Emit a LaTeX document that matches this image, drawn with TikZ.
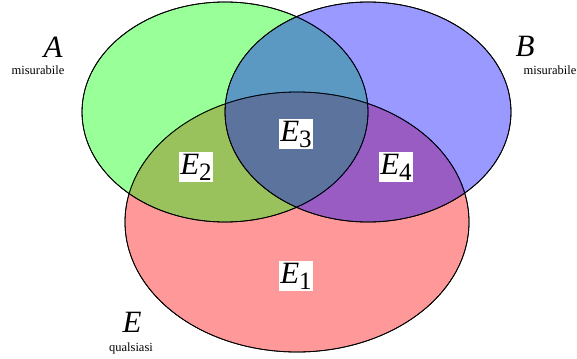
\documentclass[tikz,border=0pt]{standalone}
\usepackage{fontspec}
\setmainfont{Liberation Serif}
\usepackage{tikz}

\newcommand{\pieceE}[1]{E\raisebox{-6pt}{\fontsize{25}{25}\selectfont\upshape #1}}

\begin{document}
\begin{tikzpicture}[
    x=1pt, y=-1pt,
    setdisc/.style={draw=black, line width=0.8pt, fill opacity=0.4},
    region/.style={fill=white, inner sep=1.5pt, font=\fontsize{31}{31}\selectfont\itshape},
    setname/.style={anchor=base, font=\fontsize{31}{31}\selectfont\itshape},
    setnote/.style={anchor=base, font=\fontsize{12.5}{12.5}\selectfont},
]
    \useasboundingbox (0,0) rectangle (577,358);

    % the three sets, E first so the overlaps mix as in the picture
    \fill[setdisc, fill=red] (297,222) ellipse [x radius=172, y radius=130];
    \fill[setdisc, fill=green] (225,112) ellipse [x radius=143, y radius=110];
    \fill[setdisc, fill=blue] (368,112) ellipse [x radius=143, y radius=110];
    \draw[setdisc] (297,222) ellipse [x radius=172, y radius=130];
    \draw[setdisc] (225,112) ellipse [x radius=143, y radius=110];
    \draw[setdisc] (368,112) ellipse [x radius=143, y radius=110];

    % pieces of E
    \node[region] (e1) at (296,276) {\pieceE{1}};
    \node[region] (e2) at (196,167) {\pieceE{2}};
    \node[region] (e3) at (296,134) {\pieceE{3}};
    \node[region] (e4) at (396,167) {\pieceE{4}};

    % names of the sets
    \node[setname] (a) at (53,58) {A};
    \node[setnote] (anote) at (38,75) {misurabile};
    \node[setname] (b) at (525,57) {B};
    \node[setnote] (bnote) at (550,75) {misurabile};
    \node[setname] (e) at (132,332) {E};
    \node[setnote] (enote) at (131,351) {qualsiasi};
\end{tikzpicture}
\end{document}
